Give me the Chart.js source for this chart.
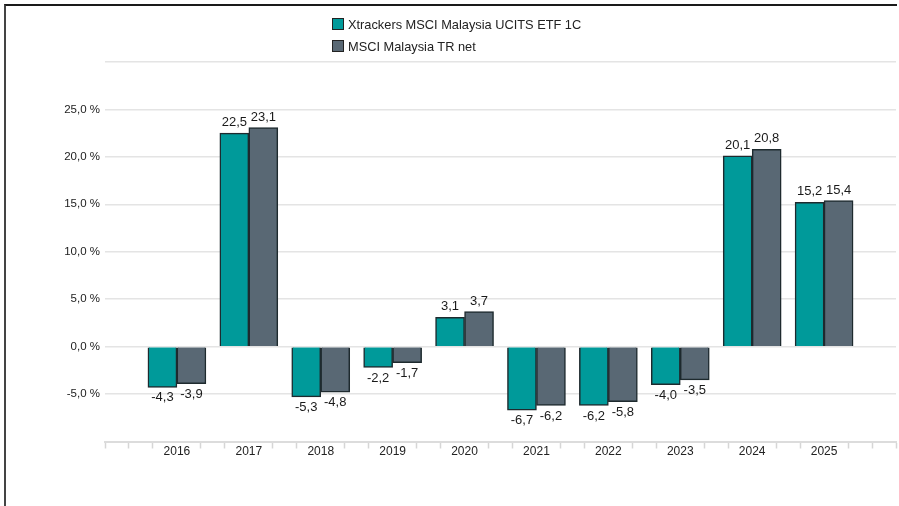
<!DOCTYPE html>
<html>
<head>
<meta charset="utf-8">
<script src="https://cdn.jsdelivr.net/npm/chart.js@4/dist/chart.umd.min.js"></script>
<style>
  html, body { margin: 0; padding: 0; background: #fff; }
  body { width: 899px; height: 506px; position: relative; overflow: hidden; font-family: "Liberation Sans", Arial, sans-serif; }
  #frame { position: absolute; left: 4px; top: 4px; width: 891px; height: 520px; border-top: 2px solid #1a1a1a; border-left: 2px solid #444; }
  #wrap { position: absolute; left: 0; top: 0; width: 899px; height: 506px; }
  #legend { position: absolute; left: 332px; top: 13px; font-size: 12.8px; color: #222; }
  #legend .item { display: flex; align-items: center; height: 22px; }
  #legend .box { width: 10px; height: 10px; border: 1px solid #222; margin-right: 4px; }
</style>
</head>
<body>
<div id="frame"></div>
<div id="wrap"><canvas id="chart" width="899" height="506"></canvas></div>
<div id="legend"></div>
<script>
  // ---- DATA ----
  const years = ["2016", "2017", "2018", "2019", "2020", "2021", "2022", "2023", "2024", "2025"];
  const etfValues = [-4.3, 22.5, -5.3, -2.2, 3.1, -6.7, -6.2, -4.0, 20.1, 15.2];
  const indexValues = [-3.9, 23.1, -4.8, -1.7, 3.7, -6.2, -5.8, -3.5, 20.8, 15.4];
  const seriesNames = ["Xtrackers MSCI Malaysia UCITS ETF 1C", "MSCI Malaysia TR net"];

  const teal = "#009a9a";
  const slate = "#596874";

  function fmt(v) {
    return v.toFixed(1).replace(".", ",");
  }

  // years sit at x = 1..10 on a linear axis, so minor ticks can go every third of a step
  function toPoints(values) {
    return values.map((v, i) => ({ x: i + 1, y: v }));
  }

  // value labels above / below the bars
  const valueLabels = {
    id: "valueLabels",
    afterDatasetsDraw(chart) {
      const ctx = chart.ctx;
      ctx.save();
      ctx.font = "13px 'Liberation Sans', Arial, sans-serif";
      ctx.fillStyle = "#1a1a1a";
      ctx.textAlign = "center";
      chart.data.datasets.forEach((ds, di) => {
        const meta = chart.getDatasetMeta(di);
        meta.data.forEach((bar, i) => {
          const v = ds.data[i].y;
          if (v >= 0) {
            ctx.textBaseline = "bottom";
            ctx.fillText(fmt(v), bar.x, bar.y - 4);
          } else {
            ctx.textBaseline = "top";
            ctx.fillText(fmt(v), bar.x, bar.y + 4);
          }
        });
      });
      ctx.restore();
    }
  };

  const chart = new Chart(document.getElementById("chart"), {
    type: "bar",
    data: {
      datasets: [
        {
          label: seriesNames[0],
          data: toPoints(etfValues),
          backgroundColor: teal,
          borderColor: "#1e2a2e",
          borderWidth: 1.5,
          barThickness: 29
        },
        {
          label: seriesNames[1],
          data: toPoints(indexValues),
          backgroundColor: slate,
          borderColor: "#1e2a2e",
          borderWidth: 1.5,
          barThickness: 29
        }
      ]
    },
    options: {
      responsive: false,
      animation: false,
      layout: { padding: { left: 0, right: 3, top: 62, bottom: 0 } },
      plugins: {
        legend: { display: false },
        tooltip: { enabled: false }
      },
      scales: {
        x: {
          type: "linear",
          offset: false,
          min: 0,
          max: 11,
          afterBuildTicks(scale) {
            const t = [];
            for (let i = 0; i <= 33; i++) t.push({ value: i / 3 });
            scale.ticks = t;
          },
          afterFit(scale) { scale.height = 64.5; },
          border: { color: "#dcdcdc", width: 2 },
          grid: {
            offset: false,
            drawOnChartArea: false,
            tickLength: 7,
            tickWidth: 1.5,
            tickColor(ctx) {
              const v = ctx.tick ? ctx.tick.value : 0;
              const k = Math.round(v * 3);
              return (k % 3 === 0 && k > 0 && k < 33) ? "rgba(0,0,0,0)" : "#d6d6d6";
            }
          },
          ticks: {
            autoSkip: false,
            maxRotation: 0,
            padding: -4,
            color: "#222",
            font: { family: "'Liberation Sans', Arial, sans-serif", size: 12 },
            callback(value) {
              const k = Math.round(value * 3);
              if (k % 3 !== 0) return "";
              const idx = k / 3 - 1;
              return years[idx] || "";
            }
          }
        },
        y: {
          min: -10,
          max: 30,
          afterFit(scale) { scale.width = 105; },
          border: { display: false },
          grid: {
            drawTicks: false,
            color: "#e4e4e4",
            lineWidth: 1.5
          },
          ticks: {
            stepSize: 5,
            padding: 5,
            color: "#222",
            font: { family: "'Liberation Sans', Arial, sans-serif", size: 11.5 },
            callback(value) {
              if (value <= -10 || value >= 30) return "";
              return fmt(value) + " %";
            }
          }
        }
      }
    },
    plugins: [valueLabels]
  });

  // ---- HTML LEGEND ----
  const legend = document.getElementById("legend");
  chart.data.datasets.forEach(ds => {
    const item = document.createElement("div");
    item.className = "item";
    const box = document.createElement("span");
    box.className = "box";
    box.style.background = ds.backgroundColor;
    const txt = document.createElement("span");
    txt.textContent = ds.label;
    item.appendChild(box);
    item.appendChild(txt);
    legend.appendChild(item);
  });
</script>
</body>
</html>
